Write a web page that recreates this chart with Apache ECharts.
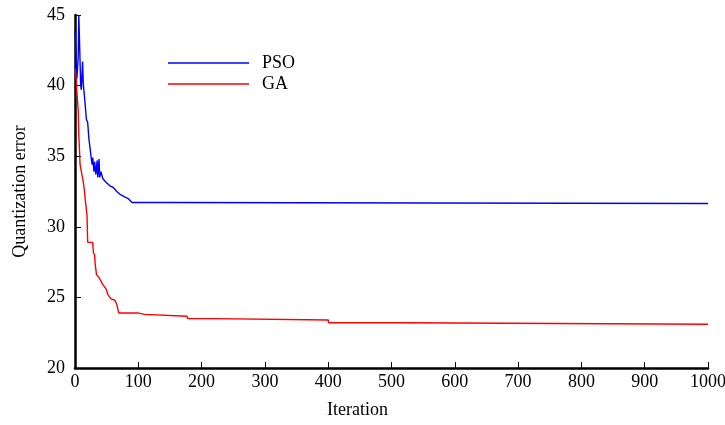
<!DOCTYPE html>
<html>
<head>
<meta charset="utf-8">
<script src="https://cdn.jsdelivr.net/npm/echarts@6/dist/echarts.min.js"></script>
<style>html,body{margin:0;padding:0;background:#fff}#c{width:725px;height:425px}</style>
</head>
<body>
<div id="c"></div>
<script>
// Data
const psoIter = [0, 3, 5, 6, 7, 9, 10, 12, 13, 16, 18, 20, 22, 24, 25, 27, 28, 30, 31, 33, 35, 36, 38, 39, 41, 44, 49, 55, 60, 66, 71, 77, 84, 90, 134, 136, 1000];
const psoVal  = [43.9, 40.5, 42.0, 45, 45, 40.0, 39.7, 41.7, 40.2, 38.7, 37.6, 37.4, 36.2, 35.5, 35.1, 34.4, 34.9, 33.9, 34.6, 33.7, 34.7, 33.5, 34.8, 33.5, 33.9, 33.4, 33.15, 32.9, 32.8, 32.5, 32.3, 32.15, 32.0, 31.72, 31.72, 31.65, 31.65];
const gaIter = [0, 2, 3, 5, 6, 7, 8, 10, 13, 15, 16, 18, 19, 20, 28, 29, 31, 32, 34, 38, 40, 44, 49, 52, 57, 63, 66, 68, 69, 99, 100, 110, 111, 177, 178, 221, 222, 400, 401, 520, 521, 1000];
const gaVal  = [41.2, 40.4, 39.5, 38.3, 36.5, 35.5, 34.4, 33.9, 33.2, 32.5, 32.0, 31.2, 30.8, 28.9, 28.9, 28.2, 28.0, 27.3, 26.6, 26.4, 26.3, 25.9, 25.6, 25.2, 24.9, 24.8, 24.5, 24.4, 23.9, 23.9, 23.8, 23.8, 23.67, 23.67, 23.5, 23.5, 23.4, 23.4, 23.2, 23.2, 23.1, 23.1];
const seriesNames = ['PSO', 'GA'];
const xTicks = {min: 0, max: 1000, interval: 100};
const yTicks = {min: 20, max: 45, interval: 5};

const font = 'Liberation Serif';
const zip = (a, b) => a.map((v, i) => [v, b[i]]);
const axisCommon = {
  axisLine: {show: true, lineStyle: {color: '#000', width: 2.5}},
  axisTick: {show: true, inside: true, length: 6, lineStyle: {color: '#000', width: 1}},
  splitLine: {show: false},
  nameTextStyle: {fontFamily: font, fontSize: 18, color: '#000'}
};
const chart = echarts.init(document.getElementById('c'), null, {renderer: 'canvas'});
chart.setOption({
  animation: false,
  backgroundColor: '#fff',
  grid: {left: 75, right: 17, top: 15, bottom: 57, containLabel: false, outerBoundsMode: 'none'},
  legend: {
    data: seriesNames.map(n => ({name: n, icon: 'rect'})), orient: 'vertical', left: 163, top: 49,
    itemWidth: 81, itemHeight: 1.5, itemGap: 3,
    textStyle: {fontFamily: font, fontSize: 18, color: '#000', padding: [0, 0, 0, 8]}
  },
  xAxis: Object.assign({}, axisCommon, {
    type: 'value', min: xTicks.min, max: xTicks.max, interval: xTicks.interval,
    name: 'Iteration', nameLocation: 'middle', nameGap: 33,
    nameTextStyle: {fontFamily: font, fontSize: 18, color: '#000', padding: [0, 68, 0, 0]},
    axisLabel: {fontFamily: font, fontSize: 18, color: '#000', margin: 5, formatter: v => String(v)}
  }),
  yAxis: Object.assign({}, axisCommon, {
    type: 'value', min: yTicks.min, max: yTicks.max, interval: yTicks.interval,
    name: 'Quantization error', nameLocation: 'middle', nameGap: 46,
    axisLabel: {fontFamily: font, fontSize: 18, color: '#000', margin: 10, formatter: v => String(v)}
  }),
  series: [
    {name: seriesNames[0], type: 'line', data: zip(psoIter, psoVal), symbol: 'none', clip: true,
     lineStyle: {color: '#0000ff', width: 1.4}, itemStyle: {color: '#0000ff'}},
    {name: seriesNames[1], type: 'line', data: zip(gaIter, gaVal), symbol: 'none', clip: true,
     lineStyle: {color: '#ff0000', width: 1.4}, itemStyle: {color: '#ff0000'}}
  ]
});
</script>
</body>
</html>
